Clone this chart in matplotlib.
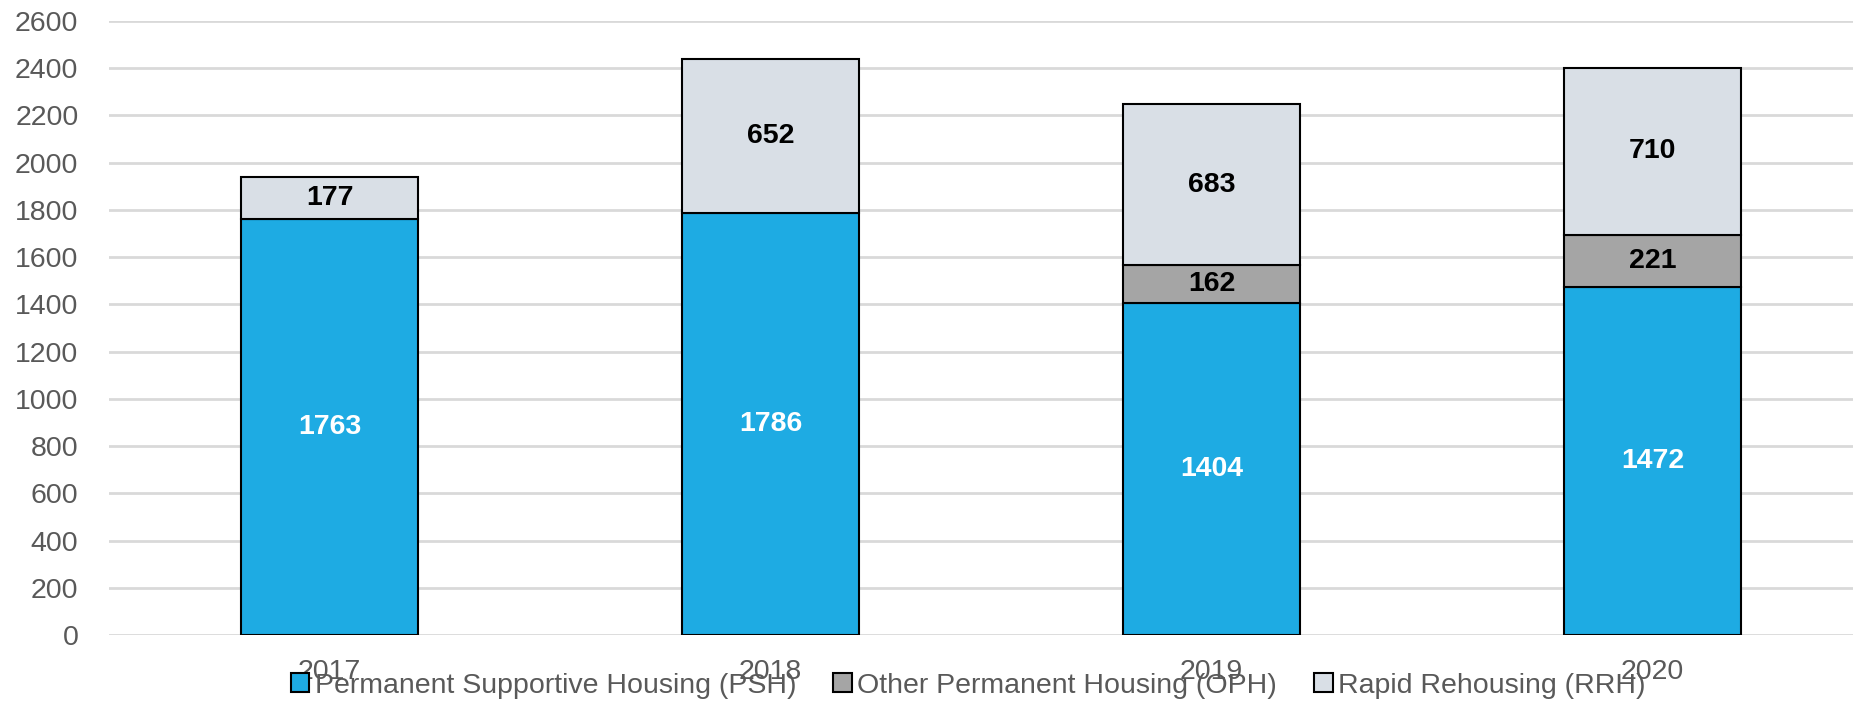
import matplotlib.pyplot as plt
from matplotlib.patches import Patch
import numpy as np

# Data
years = ['2017', '2018', '2019', '2020']
psh = [1763, 1786, 1404, 1472]
oph = [0, 0, 162, 221]
rrh = [177, 652, 683, 710]
series_names = ['Permanent Supportive Housing (PSH)', 'Other Permanent Housing (OPH)',
                'Rapid Rehousing (RRH)']

plt.rcParams['font.family'] = ['Liberation Sans', 'DejaVu Sans']

W, H = 1853, 709
fig = plt.figure(figsize=(W / 100, H / 100), dpi=100)
# axes extends past the right edge (original chart is cropped)
ax = fig.add_axes([109 / W, 74 / H, 1764 / W, 614 / H])

x = np.arange(len(years))
bw = 0.40
colors = ['#1EABE3', '#A5A5A5', '#D9DFE6']
fs = 20.5

ax.bar(x, psh, bw, color=colors[0], edgecolor='black', linewidth=1.5, zorder=3)
b2 = ax.bar(x, oph, bw, bottom=psh, color=colors[1], edgecolor='black', linewidth=1.5, zorder=3)
bottom3 = [p + o for p, o in zip(psh, oph)]
ax.bar(x, rrh, bw, bottom=bottom3, color=colors[2], edgecolor='black', linewidth=1.5, zorder=3)

# hide zero-height OPH bars
for rect, v in zip(b2, oph):
    if v == 0:
        rect.set_visible(False)

# data labels
for i in range(len(years)):
    ax.text(x[i], psh[i] / 2, str(psh[i]), ha='center', va='center',
            fontsize=fs, fontweight='bold', color='white', zorder=4)
    if oph[i] > 0:
        ax.text(x[i], psh[i] + oph[i] / 2, str(oph[i]), ha='center', va='center',
                fontsize=fs, fontweight='bold', color='black', zorder=4)
    ax.text(x[i], bottom3[i] + rrh[i] / 2, str(rrh[i]), ha='center', va='center',
            fontsize=fs, fontweight='bold', color='black', zorder=4)

ax.set_xlim(-0.5, 3.5)
ax.set_ylim(0, 2600)
ax.set_yticks(range(0, 2601, 200))
ax.set_xticks(x)
ax.set_xticklabels(years)
ax.tick_params(axis='both', length=0, labelsize=fs, labelcolor='#595959')
ax.tick_params(axis='y', pad=22)
ax.tick_params(axis='x', pad=17)
ax.yaxis.grid(True, color='#D9D9D9', linewidth=2, zorder=0)
ax.set_axisbelow(True)
for s in ax.spines.values():
    s.set_visible(False)

handles = [Patch(facecolor=c, edgecolor='black', linewidth=1.5) for c in colors]
leg = fig.legend(handles, series_names, loc='center', bbox_to_anchor=(0.5225, 0.033),
                 ncol=3, frameon=False, fontsize=fs, handlelength=0.65, handleheight=0.65,
                 handletextpad=0.2, columnspacing=1.3, borderaxespad=0)
for t in leg.get_texts():
    t.set_color('#595959')

fig.savefig('out.png', dpi=100)
